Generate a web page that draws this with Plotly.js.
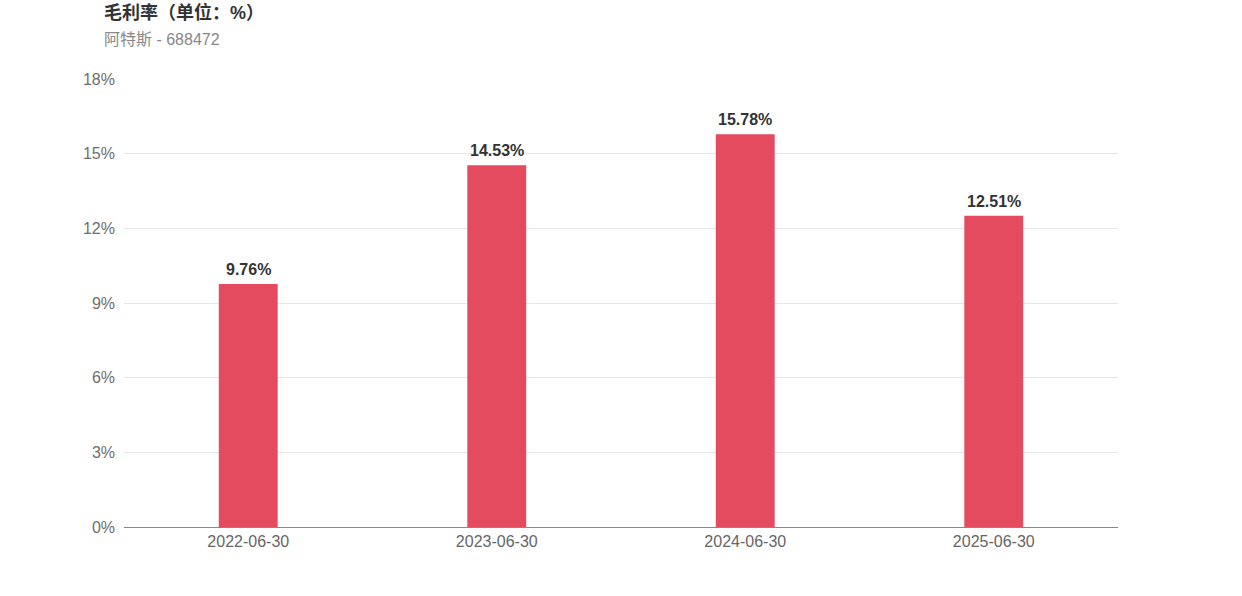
<!DOCTYPE html>
<html><head><meta charset="utf-8">
<script src="https://cdn.plot.ly/plotly-3.0.1.min.js"></script>
<style>html,body{margin:0;padding:0;background:#fff}#c{width:1242px;height:596px}</style>
</head><body><div id="c"></div>
<script>
const categories = ["2022-06-30", "2023-06-30", "2024-06-30", "2025-06-30"];
const grossMargin = [9.76, 14.53, 15.78, 12.51];
const tickVals = [0, 3, 6, 9, 12, 15, 18];
const tickText = ["0%", "3%", "6%", "9%", "12%", "15%", "18%"];
const titleText = "毛利率（单位：%）";
const subtitleText = "阿特斯 - 688472";

const FONT = "'Liberation Sans', Arial, 'Noto Sans CJK SC', sans-serif";
const labelAnns = categories.map((c, i) => ({
  x: c, y: grossMargin[i], xref: "x", yref: "y",
  text: "<b>" + grossMargin[i].toFixed(2) + "%</b>",
  showarrow: false, xanchor: "center", yanchor: "bottom", yshift: 4,
  font: {family: FONT, size: 16, color: "#333333"}
}));
Plotly.newPlot("c", [{
  type: "bar",
  x: categories,
  y: grossMargin,
  width: 0.237,
  marker: {color: "#E54B5F"},
  hoverinfo: "skip"
}], {
  width: 1242, height: 596,
  margin: {l: 124, r: 124, t: 79, b: 69},
  paper_bgcolor: "#ffffff", plot_bgcolor: "#ffffff",
  showlegend: false,
  font: {family: FONT},
  xaxis: {
    type: "category",
    tickfont: {family: FONT, size: 16, color: "#666666"},
    showline: true, linecolor: "#888888", linewidth: 1,
    ticks: "", showgrid: false, zeroline: false
  },
  yaxis: {
    range: [0, 18],
    tickvals: tickVals, ticktext: tickText,
    tickfont: {family: FONT, size: 16, color: "#6e6e6e"},
    showgrid: true, gridcolor: "#e6e6e6", gridwidth: 1,
    zeroline: false, showline: false, ticks: "", ticklen: 0,
    ticklabelstandoff: 8
  },
  annotations: labelAnns.concat([
    {text: "<b>" + titleText + "</b>", xref: "paper", yref: "paper", x: -22/994, y: 1 + (79-12)/448, xanchor: "left", yanchor: "middle", showarrow: false, font: {family: FONT, size: 18, color: "#333333"}},
    {text: subtitleText, xref: "paper", yref: "paper", x: -22/994, y: 1 + (79-39)/448, xanchor: "left", yanchor: "middle", showarrow: false, font: {family: FONT, size: 16, color: "#888888"}}
  ])
}, {displayModeBar: false, staticPlot: true});
</script></body></html>
